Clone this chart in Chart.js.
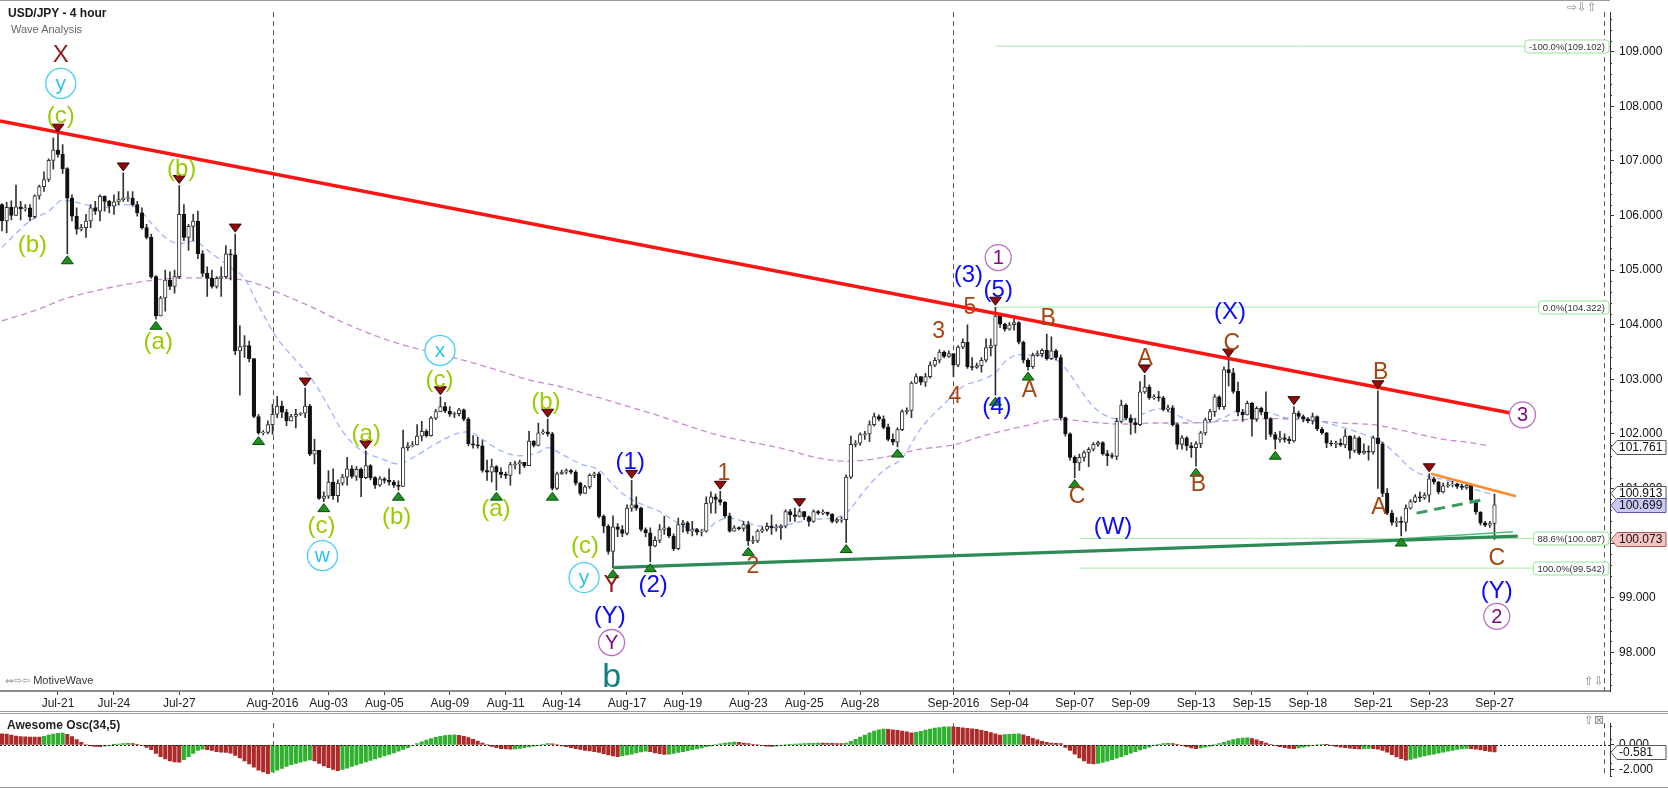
<!DOCTYPE html>
<html>
<head>
<meta charset="utf-8">
<title>USD/JPY - 4 hour</title>
<script src="https://cdn.jsdelivr.net/npm/chart.js@4.4.1/dist/chart.umd.min.js"></script>
<style>
  html, body { margin: 0; padding: 0; background: #fff; }
  #wrap { position: relative; width: 1668px; height: 789px; overflow: hidden; font-family: "Liberation Sans", Arial, sans-serif; }
  canvas { position: absolute; left: 0; }
  #priceCanvas { top: 0; }
  #oscCanvas { top: 711px; }
  .txt { position: absolute; white-space: nowrap; line-height: 1; }
  .title { left: 8px; top: 7px; font-size: 12px; font-weight: bold; color: #1a1a1a; }
  .sub { left: 11px; top: 24px; font-size: 11px; color: #666; }
  .brand { left: 5px; top: 675px; font-size: 11px; color: #333; }
  .osc { left: 7px; top: 719px; font-size: 12px; font-weight: bold; color: #222; }
  .icons { font-family: "DejaVu Sans", sans-serif; color: #8a8a8a; font-size: 12px; }
</style>
</head>
<body>
<div id="wrap">
  <canvas id="priceCanvas" width="1668" height="711"></canvas>
  <canvas id="oscCanvas" width="1668" height="78"></canvas>
  <div class="txt title">USD/JPY - 4 hour</div>
  <div class="txt sub">Wave Analysis</div>
  <div class="txt brand"><span class="icons" style="font-size:10px">&#8660;&#8680;&#8678;</span> MotiveWave</div>
  <div class="txt osc">Awesome Osc(34,5)</div>
  <div class="txt icons" style="left:1567px;top:1px">&#8680;&#8681;&#8679;</div>
  <div class="txt icons" style="left:1584px;top:675px">&#8679;&#8681;</div>
  <div class="txt icons" style="left:1584px;top:714px">&#8679;&#8864;</div>
</div>
<script>
// 4-hour bars, Jul 19 2016 .. Sep 27 2016 (bar index = position on the time axis)
const firstOpen = 106.20;
const closes = [
  105.90,106.15,106.00,106.16,106.12,106.14,105.98,106.36,106.53,106.66,
  107.01,107.20,107.12,106.86,106.32,105.99,105.75,105.78,105.90,106.14,
  106.08,106.35,106.26,106.17,106.25,106.29,106.32,106.32,106.20,106.05,
  105.78,105.60,104.88,104.16,104.49,104.82,104.70,104.88,106.02,105.60,
  105.80,105.90,105.30,104.94,104.85,104.70,104.85,104.88,105.30,105.28,
  103.52,103.60,103.62,103.38,102.32,102.02,102.03,102.17,102.36,102.51,
  102.40,102.24,102.32,102.36,102.38,102.51,101.63,101.70,100.82,100.86,
  101.12,100.87,101.10,101.21,101.36,101.22,101.35,101.20,101.42,101.20,
  101.06,101.18,101.15,101.12,101.06,101.04,101.75,101.78,101.80,101.96,
  102.05,101.97,102.29,102.41,102.50,102.42,102.36,102.37,102.44,102.27,
  101.82,101.80,101.78,101.33,101.30,101.40,101.30,101.26,101.24,101.44,
  101.45,101.48,101.42,101.87,101.79,102.02,102.04,102.00,101.00,101.27,
  101.30,101.33,101.30,101.10,100.91,101.03,101.24,101.27,100.49,100.31,
  99.85,100.30,100.25,100.18,100.64,100.70,100.64,100.25,100.19,99.95,
  100.05,100.25,100.28,100.13,99.90,100.34,100.37,100.22,100.25,100.20,
  100.22,100.73,100.85,100.80,100.75,100.50,100.22,100.28,100.27,100.34,
  100.04,100.04,100.22,100.25,100.31,100.28,100.28,100.31,100.58,100.52,
  100.49,100.58,100.48,100.40,100.58,100.55,100.57,100.53,100.40,100.43,
  100.43,101.21,101.81,101.83,101.99,102.00,102.17,102.32,102.27,102.12,
  101.90,101.85,102.08,102.41,102.43,102.93,103.05,102.95,103.05,103.26,
  103.35,103.50,103.42,103.47,103.26,103.59,103.68,103.23,103.22,103.25,
  103.35,103.58,103.62,104.16,104.01,103.92,104.00,104.04,103.68,103.35,
  103.23,103.44,103.47,103.53,103.38,103.52,103.40,102.30,102.00,101.57,
  101.47,101.57,101.66,101.72,101.81,101.84,101.64,101.60,101.59,102.23,
  102.53,102.29,102.21,102.17,102.77,102.86,102.66,102.68,102.66,102.45,
  102.48,102.17,101.81,101.93,101.78,101.75,101.82,102.02,102.26,102.41,
  102.68,102.50,103.18,103.12,102.78,102.40,102.35,102.56,102.27,102.47,
  102.40,102.28,101.99,101.90,101.93,101.90,101.87,102.38,102.32,102.27,
  102.24,102.32,102.09,102.02,101.83,101.82,101.83,101.80,101.96,101.70,
  101.93,101.65,101.68,101.67,101.93,101.82,100.91,100.55,100.38,100.40,
  100.38,100.64,100.76,100.85,100.83,100.88,101.18,101.12,100.94,101.05,
  101.07,101.08,101.04,101.02,101.06,100.79,100.57,100.37,100.33,100.36,
  100.70
];
const highs = [
  106.22,106.24,106.27,106.56,106.26,106.20,106.20,106.38,106.56,106.80,
  107.04,107.42,107.49,107.30,106.88,106.38,106.14,105.84,106.02,106.20,
  106.26,106.38,106.36,106.28,106.38,106.44,106.78,106.44,106.44,106.26,
  106.14,105.84,105.66,104.90,104.52,105.00,104.97,105.00,106.55,106.20,
  105.84,106.02,106.08,105.36,105.06,105.00,104.88,105.06,105.45,105.38,
  105.66,103.98,103.80,103.70,103.38,102.36,102.06,102.24,102.54,102.69,
  102.60,102.45,102.36,102.45,102.39,102.84,102.54,101.90,101.70,100.94,
  101.33,101.36,101.16,101.26,101.57,101.42,101.40,101.38,101.69,101.44,
  101.22,101.22,101.20,101.36,101.15,101.14,102.07,101.84,101.86,102.17,
  102.23,102.08,102.32,102.45,102.68,102.58,102.50,102.40,102.47,102.46,
  102.30,101.97,101.94,101.88,101.52,101.54,101.42,101.38,101.30,101.48,
  101.50,101.52,101.48,102.05,101.88,102.20,102.08,102.27,102.03,101.30,
  101.34,101.36,101.35,101.33,101.12,101.06,101.27,101.30,101.30,100.52,
  100.34,100.50,100.36,100.32,100.70,101.15,100.85,100.66,100.28,100.28,
  100.12,100.34,100.49,100.30,100.17,100.46,100.42,100.40,100.40,100.27,
  100.25,100.85,100.94,100.90,100.95,100.76,100.55,100.32,100.30,100.40,
  100.40,100.13,100.25,100.30,100.37,100.52,100.34,100.34,100.61,100.62,
  100.64,100.63,100.58,100.50,100.61,100.60,100.61,100.57,100.54,100.46,
  100.48,101.25,101.96,101.88,102.02,102.05,102.24,102.38,102.35,102.33,
  102.18,102.00,102.11,102.44,102.48,102.96,103.10,103.05,103.11,103.32,
  103.40,103.54,103.52,103.52,103.47,103.62,103.74,104.00,103.40,103.30,
  103.40,103.74,103.74,104.32,104.20,104.03,104.04,104.16,104.06,103.70,
  103.38,103.48,103.52,103.56,103.83,103.78,103.55,103.45,102.31,102.02,
  101.60,101.63,101.69,101.75,101.84,101.87,101.86,101.70,101.65,102.29,
  102.62,102.55,102.35,102.28,102.96,103.08,102.90,102.72,102.78,102.69,
  102.53,102.52,102.20,101.97,101.95,101.84,101.86,102.05,102.29,102.45,
  102.72,102.70,103.23,103.37,103.20,102.95,102.45,102.60,102.58,102.50,
  102.49,102.77,102.30,102.03,102.05,102.00,101.95,102.50,102.42,102.35,
  102.30,102.38,102.33,102.12,102.03,101.88,101.87,101.91,102.08,101.97,
  101.97,101.95,101.82,101.78,101.96,102.79,101.85,101.00,100.60,100.47,
  100.48,100.70,100.80,100.89,100.94,100.92,101.27,101.21,101.13,101.10,
  101.12,101.13,101.10,101.08,101.10,101.08,100.79,100.58,100.40,100.40,
  100.90
];
const lows = [
  105.72,105.68,105.92,106.05,105.92,106.08,105.90,105.95,106.30,106.44,
  106.62,106.85,107.07,106.77,105.30,105.90,105.66,105.72,105.60,105.78,
  106.02,105.90,106.08,106.05,106.02,106.20,106.26,106.26,106.17,105.99,
  105.75,105.57,104.85,104.10,104.25,104.25,104.64,104.58,104.85,105.54,
  105.36,105.54,105.21,104.88,104.52,104.67,104.67,104.52,104.85,104.82,
  103.45,102.71,103.40,103.32,102.30,101.99,101.98,102.00,101.99,102.30,
  102.30,102.15,102.24,102.11,102.34,102.30,101.60,101.45,100.80,100.76,
  100.82,100.80,100.75,101.06,101.06,101.19,101.15,100.85,101.18,101.16,
  101.00,101.04,101.10,101.06,101.02,100.97,101.04,101.70,101.76,101.82,
  101.87,101.94,101.96,102.26,102.41,102.39,102.32,102.30,102.33,102.24,
  101.78,101.74,101.74,101.30,101.15,101.12,100.97,101.20,101.18,101.06,
  101.36,101.27,101.38,101.42,101.76,101.78,101.99,101.96,100.97,100.98,
  101.26,101.27,101.27,101.06,100.88,100.94,101.00,101.20,100.46,100.19,
  99.80,99.55,100.12,100.12,100.15,100.58,100.60,100.22,100.12,99.66,
  99.93,100.01,100.16,100.10,99.86,99.88,100.20,100.18,100.13,100.15,
  100.13,100.20,100.55,100.55,100.70,100.46,100.20,100.22,100.24,100.22,
  99.96,99.99,100.01,100.19,100.22,100.16,100.22,100.07,100.28,100.40,
  100.40,100.48,100.43,100.31,100.38,100.52,100.52,100.50,100.37,100.37,
  100.38,100.01,101.18,101.76,101.79,101.90,101.86,102.14,102.24,102.09,
  101.87,101.80,101.76,102.06,102.36,102.30,102.92,102.90,102.87,103.02,
  103.23,103.30,103.39,103.40,103.05,103.23,103.56,103.20,103.17,103.20,
  103.13,103.32,103.43,102.71,103.95,103.88,103.90,103.90,103.65,103.30,
  103.17,103.20,103.42,103.41,103.35,103.36,103.35,102.25,101.96,101.52,
  101.20,101.33,101.50,101.40,101.69,101.77,101.61,101.42,101.55,101.53,
  102.20,102.26,101.99,102.02,102.15,102.74,102.63,102.63,102.60,102.42,
  102.41,102.14,101.72,101.72,101.70,101.57,101.41,101.75,101.98,102.22,
  102.32,102.45,102.45,102.88,102.74,102.33,102.23,102.35,101.96,102.23,
  102.35,101.90,101.95,101.72,101.85,101.85,101.82,101.85,102.28,102.22,
  102.20,102.18,102.06,101.99,101.75,101.78,101.75,101.77,101.75,101.55,
  101.66,101.62,101.63,101.52,101.63,101.00,100.85,100.52,100.33,100.30,
  100.13,100.22,100.62,100.74,100.76,100.80,100.75,101.08,100.90,100.92,
  101.02,101.03,101.00,100.98,100.99,100.75,100.53,100.33,100.30,100.29,
  100.07
];
// Awesome Oscillator (34,5), one value per bar
const aoValues = [
  0.90,0.88,0.80,0.72,0.66,0.64,0.63,0.62,0.62,0.70,
  0.80,0.88,0.93,0.95,0.85,0.67,0.43,0.20,0.00,-0.08,
  -0.12,-0.15,-0.10,-0.04,0.02,0.06,0.10,0.12,0.10,0.05,
  -0.05,-0.20,-0.40,-0.70,-0.95,-1.15,-1.30,-1.38,-1.40,-1.20,
  -0.95,-0.70,-0.45,-0.35,-0.40,-0.45,-0.55,-0.60,-0.62,-0.68,
  -0.85,-1.05,-1.30,-1.55,-1.80,-2.05,-2.20,-2.34,-2.20,-2.05,
  -1.90,-1.75,-1.60,-1.50,-1.40,-1.30,-1.22,-1.30,-1.50,-1.70,
  -1.85,-2.00,-2.10,-2.00,-1.88,-1.75,-1.62,-1.50,-1.38,-1.27,
  -1.15,-1.02,-0.90,-0.78,-0.65,-0.52,-0.38,-0.22,-0.05,0.10,
  0.25,0.38,0.50,0.60,0.70,0.76,0.80,0.82,0.78,0.70,
  0.58,0.45,0.30,0.15,0.00,-0.12,-0.22,-0.30,-0.33,-0.35,
  -0.32,-0.28,-0.22,-0.16,-0.10,-0.05,0.05,0.10,0.08,0.00,
  -0.08,-0.15,-0.22,-0.30,-0.38,-0.45,-0.50,-0.55,-0.62,-0.72,
  -0.82,-0.90,-0.95,-0.90,-0.82,-0.75,-0.65,-0.58,-0.52,-0.55,
  -0.65,-0.72,-0.78,-0.75,-0.70,-0.62,-0.55,-0.48,-0.40,-0.32,
  -0.25,-0.15,-0.08,0.00,0.08,0.14,0.18,0.22,0.20,0.15,
  0.10,0.05,0.00,-0.05,-0.10,-0.12,-0.10,-0.05,0.00,0.03,
  0.06,0.08,0.10,0.12,0.13,0.14,0.14,0.13,0.12,0.11,
  0.10,0.15,0.28,0.45,0.62,0.80,0.98,1.12,1.22,1.28,
  1.26,1.22,1.18,1.12,1.05,0.98,1.02,1.10,1.20,1.28,
  1.35,1.40,1.45,1.47,1.45,1.42,1.38,1.34,1.30,1.25,
  1.18,1.10,1.00,0.90,0.80,0.83,0.86,0.88,0.90,0.82,
  0.68,0.52,0.40,0.28,0.20,0.15,0.12,0.10,-0.20,-0.45,
  -0.75,-1.05,-1.30,-1.50,-1.55,-1.50,-1.42,-1.32,-1.20,-1.08,
  -0.95,-0.82,-0.68,-0.55,-0.42,-0.30,-0.18,-0.05,0.05,0.10,
  0.12,0.10,0.05,-0.05,-0.15,-0.25,-0.30,-0.25,-0.18,-0.10,
  0.00,0.10,0.20,0.32,0.42,0.50,0.55,0.57,0.50,0.40,
  0.28,0.15,0.05,-0.05,-0.15,-0.22,-0.28,-0.30,-0.25,-0.18,
  -0.10,-0.05,0.00,0.05,0.02,-0.05,-0.12,-0.18,-0.22,-0.26,
  -0.30,-0.32,-0.30,-0.28,-0.30,-0.35,-0.45,-0.60,-0.80,-0.98,
  -1.12,-1.24,-1.18,-1.08,-0.98,-0.90,-0.82,-0.75,-0.68,-0.60,
  -0.52,-0.45,-0.38,-0.32,-0.28,-0.30,-0.35,-0.42,-0.48,-0.54,
  -0.58
];

const tickBars = [12, 24, 38, 58, 70, 82, 96, 108, 120, 134, 146, 160, 172, 184, 204, 216, 230, 242, 256, 268, 280, 294, 306, 320];
const tickLabels = ['Jul-21', 'Jul-24', 'Jul-27', 'Aug-2016', 'Aug-03', 'Aug-05', 'Aug-09', 'Aug-11', 'Aug-14', 'Aug-17', 'Aug-19', 'Aug-23', 'Aug-25', 'Aug-28',
  'Sep-2016', 'Sep-04', 'Sep-07', 'Sep-09', 'Sep-13', 'Sep-15', 'Sep-18', 'Sep-21', 'Sep-23', 'Sep-27'];
const monthBars = [58, 204];
const edgeBar = 343.5;

// moving averages
const fastMaBars = [0, 6, 10, 13, 17, 21, 26, 29, 32, 35, 38, 41, 45, 49, 52, 55, 59, 63, 66, 68, 70, 73, 77, 81, 85, 88, 93, 98, 100, 103, 107, 111, 115, 117, 120, 124, 128, 131, 134, 138, 141, 144, 147, 151, 153, 156, 159, 163, 166, 170, 173, 178, 181, 185, 189, 193, 197, 202, 206, 210, 213, 215, 218, 222, 225, 228, 231, 234, 238, 242, 245, 248, 251, 255, 258, 262, 265, 269, 272, 276, 280, 284, 289, 292, 296, 299, 302, 305, 310, 314, 320];
const fastMa = [105.42, 105.90, 106.08, 106.28, 106.22, 106.14, 106.20, 106.14, 105.86, 105.60, 105.48, 105.53, 105.30, 105.05, 104.85, 104.35, 103.75, 103.35, 103.05, 102.80, 102.50, 102.05, 101.70, 101.56, 101.45, 101.56, 101.82, 102.02, 102.04, 101.90, 101.69, 101.60, 101.66, 101.75, 101.63, 101.45, 101.34, 101.07, 100.85, 100.68, 100.58, 100.41, 100.28, 100.25, 100.38, 100.46, 100.40, 100.31, 100.31, 100.37, 100.43, 100.46, 100.55, 100.97, 101.33, 101.56, 102.10, 102.55, 102.87, 102.99, 103.12, 103.32, 103.45, 103.44, 103.41, 103.20, 102.84, 102.50, 102.29, 102.26, 102.38, 102.46, 102.38, 102.23, 102.20, 102.30, 102.42, 102.41, 102.38, 102.29, 102.29, 102.20, 102.08, 101.99, 101.84, 101.62, 101.37, 101.24, 101.15, 101.03, 100.88];
const slowMaBars = [0, 7, 14, 21, 28, 35, 42, 49, 55, 60, 66, 73, 80, 88, 95, 105, 113, 120, 127, 134, 141, 147, 153, 160, 167, 175, 181, 189, 196, 204, 211, 218, 227, 232, 240, 247, 254, 261, 266, 273, 280, 287, 294, 301, 309, 314, 319];
const slowMa = [104.07, 104.26, 104.49, 104.64, 104.76, 104.84, 104.86, 104.85, 104.74, 104.56, 104.34, 104.05, 103.80, 103.58, 103.44, 103.20, 102.99, 102.86, 102.69, 102.51, 102.33, 102.15, 101.99, 101.86, 101.74, 101.56, 101.50, 101.57, 101.71, 101.80, 101.98, 102.12, 102.27, 102.23, 102.18, 102.20, 102.20, 102.23, 102.26, 102.28, 102.25, 102.20, 102.17, 102.05, 101.90, 101.85, 101.78];

// swing markers
const peakBars = [12, 26, 38, 50, 65, 78, 94, 117, 135, 154, 171, 213, 245, 263, 277, 295, 306];
const troughBars = [14, 33, 55, 69, 85, 106, 118, 131, 139, 160, 181, 192, 213, 220, 230, 256, 273, 300];

// fibonacci levels
const fibLevels = [109.102, 104.322, 100.087, 99.542];
const fibNames = ['-100.0%', '0.0%', '88.6%', '100.0%'];
const fibStartBars = [213, 213, 231, 231];

// drawn lines [bar, price]
const resistanceLine = [[-0.43, 107.73], [323.7, 102.38]];
const supportLine = [[131, 99.55], [325, 100.13]];
const supportLine2 = [[300, 100.08], [324, 100.21]];
const wedgeTop = [[306.4, 101.27], [324.6, 100.86]];
const wedgeBase = [[303.3, 100.55], [317.3, 100.79]];

// wave labels [bar, price, text, group]
const waveLabels = [
  [12.6, 108.95, 'X', 'dr'], [12.6, 108.42, 'y', 'cy'], [12.6, 107.83, '(c)', 'g'],
  [6.5, 105.47, '(b)', 'g'], [38.5, 106.87, '(b)', 'g'], [33.5, 103.70, '(a)', 'g'],
  [68.5, 100.32, '(c)', 'g'], [68.7, 99.77, 'w', 'cy'], [78.1, 102.01, '(a)', 'g'],
  [84.6, 100.49, '(b)', 'g'], [93.8, 103.00, '(c)', 'g'], [93.9, 103.53, 'x', 'cy'],
  [105.9, 100.64, '(a)', 'g'], [116.6, 102.59, '(b)', 'g'], [125.0, 99.95, '(c)', 'g'],
  [124.8, 99.37, 'y', 'cy'], [130.7, 99.24, 'Y', 'dr'], [130.3, 98.68, '(Y)', 'bl'],
  [130.7, 98.18, 'Y', 'pu'], [130.7, 97.55, 'b', 'tl'], [134.7, 101.50, '(1)', 'bl'],
  [139.6, 99.24, '(2)', 'bl'], [154.8, 101.29, '1', 'br'], [161.0, 99.58, '2', 'br'],
  [200.8, 103.90, '3', 'br'], [204.3, 102.70, '4', 'br'], [207.5, 104.34, '5', 'br'],
  [207.2, 104.92, '(3)', 'bl'], [213.6, 104.64, '(5)', 'bl'], [213.6, 105.23, '1', 'pu'],
  [213.3, 102.50, '(4)', 'bl'], [220.3, 102.81, 'A', 'br'], [224.3, 104.13, 'B', 'br'],
  [230.5, 100.87, 'C', 'br'], [238.2, 100.31, '(W)', 'bl'], [245.1, 103.39, 'A', 'br'],
  [263.3, 104.25, '(X)', 'bl'], [263.7, 103.68, 'C', 'br'], [256.5, 101.09, 'B', 'br'],
  [295.6, 103.14, 'B', 'br'], [295.2, 100.67, 'A', 'br'], [320.5, 99.73, 'C', 'br'],
  [320.5, 99.14, '(Y)', 'bl'], [320.5, 98.66, '2', 'pu'], [326.0, 102.35, '3', 'pu']
];

// values shown in the axis tags
const priceTags = [101.761, 100.913, 100.699, 100.073];
const aoTag = -0.581;

// ---------- view ----------
const X_MIN = -0.43, X_MAX = 344.77;
const P_MIN = 97.292, P_MAX = 109.724;
const AO_MIN = -2.589, AO_MAX = 1.754;
const FONT = '"Liberation Sans", Arial, sans-serif';

const labelStyle = {
  g:  { color: '#99cc00', size: 24 },
  cy: { color: '#2cc3f2', size: 21, ring: 15, ringColor: '#49cdf5' },
  dr: { color: '#8b1c1c', size: 24 },
  bl: { color: '#0a0aff', size: 24 },
  br: { color: '#a7440f', size: 23 },
  pu: { color: '#7d0a80', size: 20, ring: 13, ringColor: '#bb6fc2' },
  tl: { color: '#0f7f80', size: 34 }
};
const tagStyle = [
  { fill: '#ffffff', stroke: '#555555' },
  { fill: '#ffffff', stroke: '#555555' },
  { fill: '#c9c9f6', stroke: '#5a5aa8' },
  { fill: '#f6c4c4', stroke: '#a85a5a' }
];

Chart.defaults.font.family = FONT;
Chart.defaults.color = '#111';

const opens = closes.map((c, i) => i === 0 ? firstOpen : closes[i - 1]);
const isUp = closes.map((c, i) => c >= opens[i]);
const bodyData = closes.map((c, i) => {
  let a = opens[i], b = c;
  if (Math.abs(b - a) < 0.015) { const m = (a + b) / 2; a = m - 0.008; b = m + 0.008; }
  return { x: i, y: [a, b] };
});
const wickData = closes.map((c, i) => ({ x: i, y: [Math.min(lows[i], opens[i], c), Math.max(highs[i], opens[i], c)] }));
const pts = arr => arr.map(p => ({ x: p[0], y: p[1] }));

function vline(ctx, x, top, bottom) {
  ctx.beginPath(); ctx.moveTo(x, top); ctx.lineTo(x, bottom); ctx.stroke();
}
function drawTag(ctx, x0, yc, text, st) {
  ctx.beginPath();
  ctx.moveTo(x0, yc);
  ctx.lineTo(x0 + 6, yc - 7);
  ctx.lineTo(x0 + 55, yc - 7);
  ctx.lineTo(x0 + 55, yc + 7);
  ctx.lineTo(x0 + 6, yc + 7);
  ctx.closePath();
  ctx.fillStyle = st.fill; ctx.fill();
  ctx.strokeStyle = st.stroke; ctx.lineWidth = 1; ctx.stroke();
  ctx.fillStyle = '#111';
  ctx.font = '12px ' + FONT;
  ctx.textAlign = 'left'; ctx.textBaseline = 'middle';
  ctx.fillText(text, x0 + 8, yc + 0.5);
}
function minorTicks(ctx, scale, step, x0) {
  ctx.strokeStyle = '#333'; ctx.lineWidth = 1;
  for (let v = Math.ceil(scale.min / step) * step; v <= scale.max; v += step) {
    const r = Math.round(v * 1000) / 1000;
    if (Math.abs(r - Math.round(r)) < 1e-6 && step < 1) continue;
    const py = Math.round(scale.getPixelForValue(r)) + 0.5;
    ctx.beginPath(); ctx.moveTo(x0, py); ctx.lineTo(x0 + 2, py); ctx.stroke();
  }
}

const priceOverlay = {
  id: 'priceOverlay',
  beforeDatasetsDraw(chart) {
    const { ctx, chartArea: a, scales: { x } } = chart;
    ctx.save();
    ctx.strokeStyle = '#555'; ctx.lineWidth = 1; ctx.setLineDash([5, 4]);
    monthBars.concat([edgeBar]).forEach(b => vline(ctx, Math.round(x.getPixelForValue(b)) + 0.5, a.top, a.bottom));
    ctx.restore();
  },
  afterDatasetsDraw(chart) {
    const { ctx, scales: { x, y } } = chart;
    ctx.save();
    // swing triangles
    ctx.lineWidth = 1;
    peakBars.forEach(b => {
      const px = x.getPixelForValue(b), py = y.getPixelForValue(highs[b]) - 2;
      ctx.beginPath(); ctx.moveTo(px - 6, py - 8); ctx.lineTo(px + 6, py - 8); ctx.lineTo(px, py); ctx.closePath();
      ctx.fillStyle = '#8e0c0c'; ctx.fill(); ctx.strokeStyle = '#3d0000'; ctx.stroke();
    });
    troughBars.forEach(b => {
      const px = x.getPixelForValue(b), py = y.getPixelForValue(lows[b]) + 2;
      ctx.beginPath(); ctx.moveTo(px - 6, py + 8); ctx.lineTo(px + 6, py + 8); ctx.lineTo(px, py); ctx.closePath();
      ctx.fillStyle = '#1f8f1f'; ctx.fill(); ctx.strokeStyle = '#0b4d0b'; ctx.stroke();
    });
    // wave labels
    ctx.textAlign = 'center'; ctx.textBaseline = 'middle';
    waveLabels.forEach(([b, p, t, g]) => {
      const st = labelStyle[g];
      const px = x.getPixelForValue(b), py = y.getPixelForValue(p);
      if (st.ring) {
        ctx.beginPath(); ctx.arc(px, py, st.ring, 0, Math.PI * 2);
        ctx.fillStyle = '#fff'; ctx.fill();
        ctx.strokeStyle = st.ringColor; ctx.lineWidth = 1.3; ctx.stroke();
      }
      ctx.font = st.size + 'px ' + FONT;
      ctx.fillStyle = st.color;
      ctx.fillText(t, px, py + 1);
    });
    ctx.restore();
  },
  afterDraw(chart) {
    const { ctx, chartArea: a, scales: { y } } = chart;
    ctx.save();
    // frame
    ctx.fillStyle = '#9a9a9a';
    ctx.fillRect(0, 0, a.right, 1);
    minorTicks(ctx, y, 0.2, a.right);
    // fib labels
    ctx.font = '9.5px ' + FONT;
    ctx.textBaseline = 'middle'; ctx.textAlign = 'left';
    fibLevels.forEach((lv, k) => {
      const txt = fibNames[k] + '(' + lv.toFixed(3) + ')';
      const w = ctx.measureText(txt).width + 8;
      const yc = Math.round(y.getPixelForValue(lv)) + 0.5;
      const x1 = a.right - 1, x0 = x1 - w;
      ctx.beginPath();
      ctx.roundRect(x0, yc - 6.5, w, 13, 3);
      ctx.fillStyle = '#fff'; ctx.fill();
      ctx.strokeStyle = '#98e598'; ctx.lineWidth = 1; ctx.stroke();
      ctx.fillStyle = '#333';
      ctx.fillText(txt, x0 + 4, yc + 0.5);
    });
    // axis tags
    priceTags.forEach((v, k) => drawTag(ctx, a.right + 1, Math.round(y.getPixelForValue(v)) + 0.5, v.toFixed(3), tagStyle[k]));
    ctx.restore();
  }
};

const oscOverlay = {
  id: 'oscOverlay',
  beforeDatasetsDraw(chart) {
    const { ctx, chartArea: a, scales: { x, y } } = chart;
    ctx.save();
    ctx.strokeStyle = '#555'; ctx.lineWidth = 1; ctx.setLineDash([5, 4]);
    monthBars.concat([edgeBar]).forEach(b => vline(ctx, Math.round(x.getPixelForValue(b)) + 0.5, a.top, a.bottom));
    ctx.restore();
  },
  afterDatasetsDraw(chart) {
    const { ctx, chartArea: a, scales: { y } } = chart;
    ctx.save();
    ctx.strokeStyle = '#222'; ctx.lineWidth = 1; ctx.setLineDash([2, 2]);
    const zy = Math.round(y.getPixelForValue(0)) + 0.5;
    ctx.beginPath(); ctx.moveTo(a.left, zy); ctx.lineTo(a.right, zy); ctx.stroke();
    ctx.restore();
  },
  afterDraw(chart) {
    const { ctx, chartArea: a, scales: { y } } = chart;
    ctx.save();
    ctx.fillStyle = '#9a9a9a';
    ctx.fillRect(0, 0, chart.width, 1);
    ctx.fillRect(0, 2, chart.width, 1);
    ctx.fillRect(0, chart.height - 2, chart.width, 1);
    minorTicks(ctx, y, 0.5, a.right);
    drawTag(ctx, a.right + 1, Math.round(y.getPixelForValue(aoTag)) + 0.5, aoTag.toFixed(3), tagStyle[0]);
    ctx.restore();
  }
};

const lineSet = (data, color, width, dash, order) => ({
  type: 'line', data: pts(data), borderColor: color, borderWidth: width,
  borderDash: dash || [], pointRadius: 0, order: order, tension: 0
});

new Chart(document.getElementById('priceCanvas'), {
  type: 'bar',
  data: {
    datasets: [
      ...fibLevels.map((lv, k) => lineSet([[fibStartBars[k], lv], [X_MAX, lv]], '#a4eca4', 1, null, 7)),
      { type: 'line', data: slowMaBars.map((b, k) => ({ x: b, y: slowMa[k] })), borderColor: '#c98bd0', borderWidth: 1.3,
        borderDash: [6, 4], pointRadius: 0, cubicInterpolationMode: 'monotone', order: 6 },
      { type: 'line', data: fastMaBars.map((b, k) => ({ x: b, y: fastMa[k] })), borderColor: '#9fb3ff', borderWidth: 1.3,
        borderDash: [6, 4], pointRadius: 0, cubicInterpolationMode: 'monotone', order: 6 },
      { data: wickData, backgroundColor: '#333', barThickness: 1, grouped: false, order: 5 },
      { data: bodyData, backgroundColor: isUp.map(u => u ? '#ffffff' : '#111111'),
        borderColor: isUp.map(u => u ? '#333333' : '#111111'), borderWidth: 1, borderSkipped: false,
        barThickness: 3.6, grouped: false, order: 4 },
      lineSet(supportLine, '#2e8b57', 3.2, null, 2),
      lineSet(supportLine2, '#4cbf78', 1.5, null, 2),
      lineSet(wedgeBase, '#3c9a62', 3, [11, 7], 2),
      lineSet(wedgeTop, '#ff8a2a', 2.5, null, 2),
      lineSet(resistanceLine, '#ff1414', 3.5, null, 1)
    ]
  },
  options: {
    responsive: false, animation: false, events: [],
    layout: { padding: { top: 1, left: 0, right: 0, bottom: 0 } },
    plugins: { legend: { display: false }, tooltip: { enabled: false } },
    scales: {
      x: {
        type: 'linear', min: X_MIN, max: X_MAX, offset: false,
        afterBuildTicks: s => { s.ticks = tickBars.map(v => ({ value: v })); },
        afterFit: s => { s.height = 20; },
        ticks: { autoSkip: false, maxRotation: 0, minRotation: 0, font: { size: 12 }, color: '#222', padding: 1,
          callback: (v, i) => tickLabels[i] },
        grid: { drawOnChartArea: false, drawTicks: true, tickLength: 4, color: '#444', offset: false },
        border: { display: true, color: '#8c8c8c', width: 2 }
      },
      y: {
        type: 'linear', position: 'right', min: P_MIN, max: P_MAX,
        afterFit: s => { s.width = 58; },
        ticks: { stepSize: 1, includeBounds: false, font: { size: 12 }, color: '#111', padding: 5,
          callback: v => Number(v).toFixed(3) },
        grid: { drawOnChartArea: false, tickLength: 4, color: '#333' },
        border: { display: true, color: '#333', width: 1 }
      }
    }
  },
  plugins: [priceOverlay]
});

new Chart(document.getElementById('oscCanvas'), {
  type: 'bar',
  data: {
    datasets: [{
      data: aoValues.map((v, i) => ({ x: i, y: v })),
      backgroundColor: aoValues.map((v, i) => (i > 0 && v > aoValues[i - 1]) ? '#2fb02f' : '#ad2a2a'),
      barThickness: 3.4, borderWidth: 0, grouped: false
    }]
  },
  options: {
    responsive: false, animation: false, events: [],
    layout: { padding: { top: 0, left: 0, right: 0, bottom: 2 } },
    plugins: { legend: { display: false }, tooltip: { enabled: false } },
    scales: {
      x: { type: 'linear', min: X_MIN, max: X_MAX, display: false, offset: false },
      y: {
        type: 'linear', position: 'right', min: AO_MIN, max: AO_MAX,
        afterFit: s => { s.width = 58; },
        ticks: { stepSize: 2, includeBounds: false, font: { size: 12 }, color: '#111', padding: 5,
          callback: v => Number(v).toFixed(3) },
        grid: { drawOnChartArea: false, tickLength: 4, color: '#333' },
        border: { display: true, color: '#333', width: 1 }
      }
    }
  },
  plugins: [oscOverlay]
});
</script>
</body>
</html>
